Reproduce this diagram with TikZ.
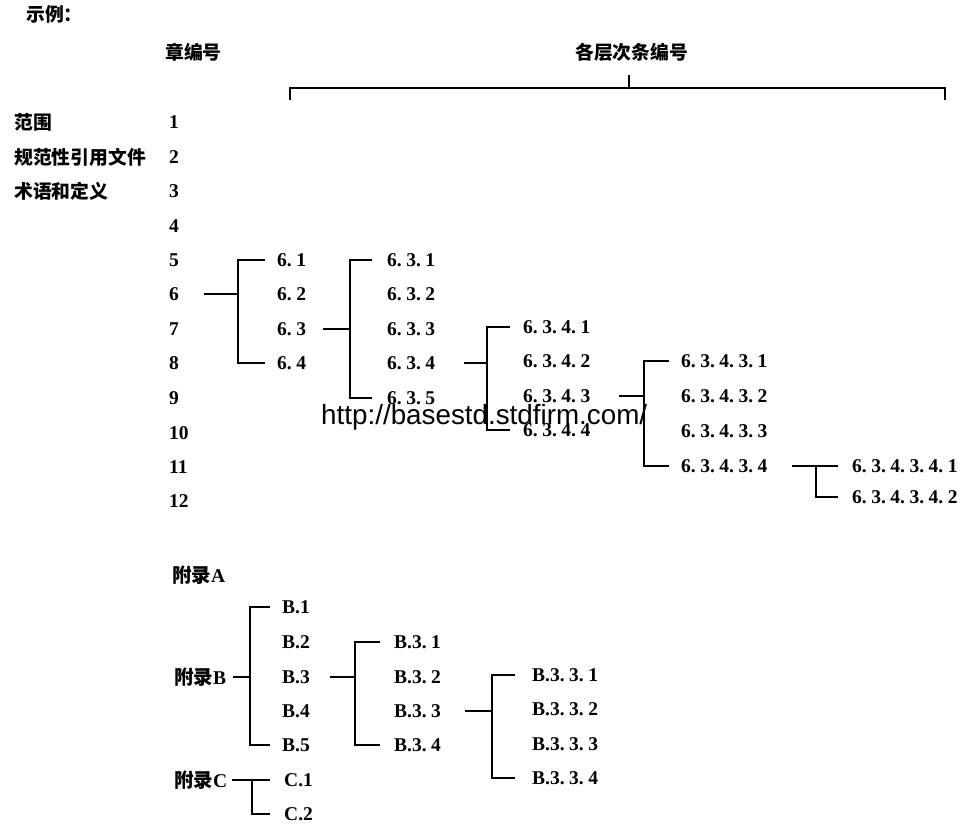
\documentclass[tikz,border=0pt]{standalone}
\usepackage{fontspec}
\setmainfont{Liberation Serif}
\newfontfamily\cjk{Noto Sans CJK SC}
\newfontfamily\wmfont{Liberation Sans}
\newcommand\dotsp{.\hspace{4.5pt}}
\begin{document}
\begin{tikzpicture}[x=1pt,y=-1pt,
  every node/.style={inner sep=0pt,anchor=west,font=\fontsize{19.5}{21}\selectfont\bfseries},
  cn/.style={font=\fontsize{18.8}{21}\selectfont\cjk\bfseries},
  tree/.style={line width=1.8pt,line join=miter},
  wm/.style={font=\fontsize{27.8}{30}\selectfont\wmfont}]
\useasboundingbox (0,0) rectangle (976,836);
% headings
\node[cn] (ex) at (26,14) {示例：};
\node[cn] (hch) at (165,52) {章编号};
\node[cn] (hsub) at (575,52) {各层次条编号};
\draw[tree] (290,100) -- (290,88) -- (945,88) -- (945,100);
\draw[tree] (629,88) -- (629,75);
% left labels
\node[cn] (l1) at (14,122) {范围};
\node[cn] (l2) at (14,157) {规范性引用文件};
\node[cn] (l3) at (14,191) {术语和定义};
% chapter numbers
\node (c1) at (169,122) {1};
\node (c2) at (169,157) {2};
\node (c3) at (169,191) {3};
\node (c4) at (169,226) {4};
\node (c5) at (169,260) {5};
\node (c6) at (169,294) {6};
\node (c7) at (169,329) {7};
\node (c8) at (169,363) {8};
\node (c9) at (169,398) {9};
\node (c10) at (169,433) {10};
\node (c11) at (169,467) {11};
\node (c12) at (169,501) {12};
% level 1
\node (n61) at (277,260) {6\dotsp 1};
\node (n62) at (277,294) {6\dotsp 2};
\node (n63) at (277,329) {6\dotsp 3};
\node (n64) at (277,363) {6\dotsp 4};
% level 2
\node (n631) at (387,260) {6\dotsp 3\dotsp 1};
\node (n632) at (387,294) {6\dotsp 3\dotsp 2};
\node (n633) at (387,329) {6\dotsp 3\dotsp 3};
\node (n634) at (387,363) {6\dotsp 3\dotsp 4};
\node (n635) at (387,398) {6\dotsp 3\dotsp 5};
% level 3
\node (n6341) at (523,327) {6\dotsp 3\dotsp 4\dotsp 1};
\node (n6342) at (523,361) {6\dotsp 3\dotsp 4\dotsp 2};
\node (n6343) at (523,396) {6\dotsp 3\dotsp 4\dotsp 3};
\node (n6344) at (523,430) {6\dotsp 3\dotsp 4\dotsp 4};
% level 4
\node (n63431) at (681,361) {6\dotsp 3\dotsp 4\dotsp 3\dotsp 1};
\node (n63432) at (681,396) {6\dotsp 3\dotsp 4\dotsp 3\dotsp 2};
\node (n63433) at (681,431) {6\dotsp 3\dotsp 4\dotsp 3\dotsp 3};
\node (n63434) at (681,466) {6\dotsp 3\dotsp 4\dotsp 3\dotsp 4};
% level 5
\node (n634341) at (852,466) {6\dotsp 3\dotsp 4\dotsp 3\dotsp 4\dotsp 1};
\node (n634342) at (852,497) {6\dotsp 3\dotsp 4\dotsp 3\dotsp 4\dotsp 2};
% appendices
\node (apA) at (172,575) {{\cjk 附录}A};
\node (apB) at (174,677) {{\cjk 附录}B};
\node (apC) at (174,780) {{\cjk 附录}C};
\node (B1) at (282,607) {B.1};
\node (B2) at (282,642) {B.2};
\node (B3) at (282,677) {B.3};
\node (B4) at (282,711) {B.4};
\node (B5) at (282,745) {B.5};
\node (C1) at (284,780) {C.1};
\node (C2) at (284,814) {C.2};
\node (B31) at (394,642) {B.3\dotsp 1};
\node (B32) at (394,677) {B.3\dotsp 2};
\node (B33) at (394,711) {B.3\dotsp 3};
\node (B34) at (394,745) {B.3\dotsp 4};
\node (B331) at (532,675) {B.3\dotsp 3\dotsp 1};
\node (B332) at (532,709) {B.3\dotsp 3\dotsp 2};
\node (B333) at (532,744) {B.3\dotsp 3\dotsp 3};
\node (B334) at (532,778) {B.3\dotsp 3\dotsp 4};
% junction x positions
\coordinate (s1) at (204,0); \coordinate (j1) at (238,0); \coordinate (t1) at (265,0);
\coordinate (s2) at (323,0); \coordinate (j2) at (350,0); \coordinate (t2) at (372,0);
\coordinate (s3) at (464,0); \coordinate (j3) at (487,0); \coordinate (t3) at (510,0);
\coordinate (s4) at (619,0); \coordinate (j4) at (644,0); \coordinate (t4) at (669,0);
\coordinate (s5) at (792,0); \coordinate (j5) at (816,0); \coordinate (t5) at (838,0);
\coordinate (sB) at (233,0); \coordinate (jB) at (250,0); \coordinate (tB) at (270,0);
\coordinate (sC) at (232,0); \coordinate (jC) at (252,0); \coordinate (tC) at (270,0);
\coordinate (sB3) at (330,0); \coordinate (jB3) at (355,0); \coordinate (tB3) at (380,0);
\coordinate (sB33) at (465,0); \coordinate (jB33) at (492,0); \coordinate (tB33) at (515,0);
% connectors
\draw[tree] (s1 |- c6) -- (j1 |- c6);
\draw[tree] (t1 |- n61) -| (j1 |- n64) -- (t1 |- n64);
\draw[tree] (s2 |- n63) -- (j2 |- n63);
\draw[tree] (t2 |- n631) -| (j2 |- n635) -- (t2 |- n635);
\draw[tree] (s3 |- n634) -- (j3 |- n634);
\draw[tree] (t3 |- n6341) -| (j3 |- n6344) -- (t3 |- n6344);
\draw[tree] (s4 |- n6343) -- (j4 |- n6343);
\draw[tree] (t4 |- n63431) -| (j4 |- n63434) -- (t4 |- n63434);
\draw[tree] (s5 |- n63434) -- (t5 |- n634341);
\draw[tree] (j5 |- n634341) |- (t5 |- n634342);
\draw[tree] (sB |- apB) -- (jB |- apB);
\draw[tree] (tB |- B1) -| (jB |- B5) -- (tB |- B5);
\draw[tree] (sC |- apC) -- (tC |- C1);
\draw[tree] (jC |- C1) |- (tC |- C2);
\draw[tree] (sB3 |- B3) -- (jB3 |- B3);
\draw[tree] (tB3 |- B31) -| (jB3 |- B34) -- (tB3 |- B34);
\draw[tree] (sB33 |- B33) -- (jB33 |- B33);
\draw[tree] (tB33 |- B331) -| (jB33 |- B334) -- (tB33 |- B334);
% watermark text
\node[wm] (wmark) at (321,417) {http://basestd.stdfirm.com/};
\end{tikzpicture}
\end{document}
